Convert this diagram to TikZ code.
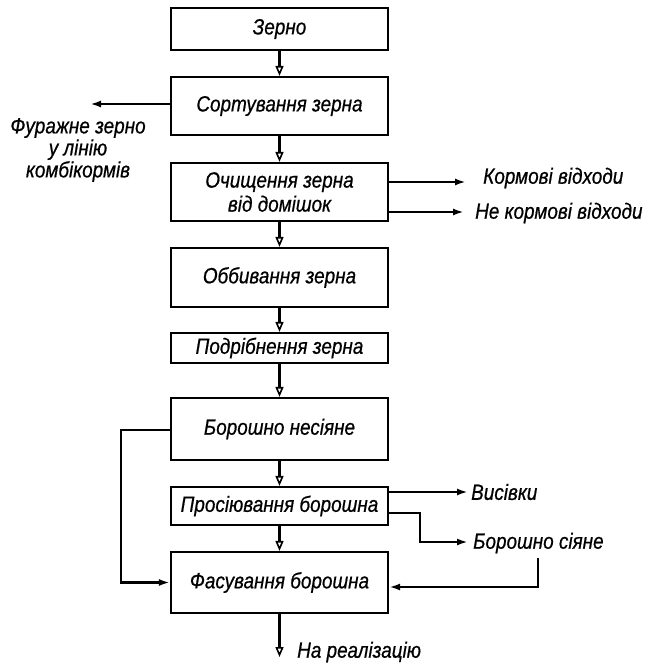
\documentclass[tikz,border=0pt]{standalone}
\usepackage{fontspec}
\setmainfont{Liberation Sans}
\newfontfamily\lbl{Liberation Sans}[FakeStretch=0.86,FakeBold=0.6]
\usetikzlibrary{arrows.meta,calc}
\begin{document}
\begin{tikzpicture}[x=1pt,y=-1pt,
  every node/.style={font=\lbl\itshape\fontsize{22}{23}\selectfont, inner sep=0pt},
  stage/.style={draw, line width=2.2pt, minimum width=217pt, align=center},
  flow/.style={line width=2.2pt, -{Triangle[open,length=10pt,width=8pt,line width=1.6pt]}},
  side/.style={line width=2.2pt, -{Latex[length=11pt,width=7pt]}},
  txt/.style={align=center}]
\useasboundingbox[fill=white] (0,0) rectangle (649,667);

% process stages
\node[stage, minimum height=42pt] (zerno)  at (279.5,29)    {Зерно};
\node[stage, minimum height=58pt] (sort)   at (279.5,106)   {Сортування зерна};
\node[stage, minimum height=58pt] (clean)  at (279.5,192)   {Очищення зерна\\[1pt]від домішок};
\node[stage, minimum height=59pt] (husk)   at (279.5,277.5) {Оббивання зерна};
\node[stage, minimum height=30pt] (grind)  at (279.5,348)   {Подрібнення зерна};
\node[stage, minimum height=62pt] (raw)    at (279.5,429)   {Борошно несіяне};
\node[stage, minimum height=38pt] (sift)   at (279.5,506)   {Просіювання борошна};
\node[stage, minimum height=61pt] (pack)   at (279.5,582.5) {Фасування борошна};

% side outputs
\node[txt] (fodder) at (78,150) {Фуражне зерно\\[-1pt]у лінію\\[-1pt]комбікормів};
\node[anchor=west] (waste1) at (483,178) {Кормові відходи};
\node[anchor=west] (waste2) at (475,213) {Не кормові відходи};
\node[anchor=west] (bran)   at (471,492) {Висівки};
\node[anchor=west] (sifted) at (473,543) {Борошно сіяне};
\node[anchor=west] (sale)   at (297,652) {На реалізацію};

% arrow ends and bends
\coordinate (fodtip) at (90,104);
\coordinate (w1tip)  at (466,182);
\coordinate (w2tip)  at (464,212);
\coordinate (brtip)  at (468,492);
\coordinate (sftip)  at (468,542);
\coordinate (bend)   at (420,513);
\coordinate (loopx)  at (121,430);
\coordinate (retx)   at (538,558);
\coordinate (saletip) at (279.5,657);

% main flow
\draw[flow] (zerno) -- (sort);
\draw[flow] (sort) -- (clean);
\draw[flow] (clean) -- (husk);
\draw[flow] (husk) -- (grind);
\draw[flow] (grind) -- (raw);
\draw[flow] (raw) -- (sift);
\draw[flow] (sift) -- (pack);
\draw[flow] (pack) -- (saletip);

% branches
\draw[side] (sort.west |- fodtip) -- (fodtip);
\draw[side] (clean.east |- w1tip) -- (w1tip);
\draw[side] (clean.east |- w2tip) -- (w2tip);
\draw[side] (sift.east |- brtip) -- (brtip);
\draw[side] (sift.east |- bend) -- (bend) |- (sftip);
\draw[side] (retx) |- ($(pack.east)+(0,4.5)$);
\draw[side] (raw.west |- loopx) -- (loopx) |- (pack.west);
\end{tikzpicture}
\end{document}
